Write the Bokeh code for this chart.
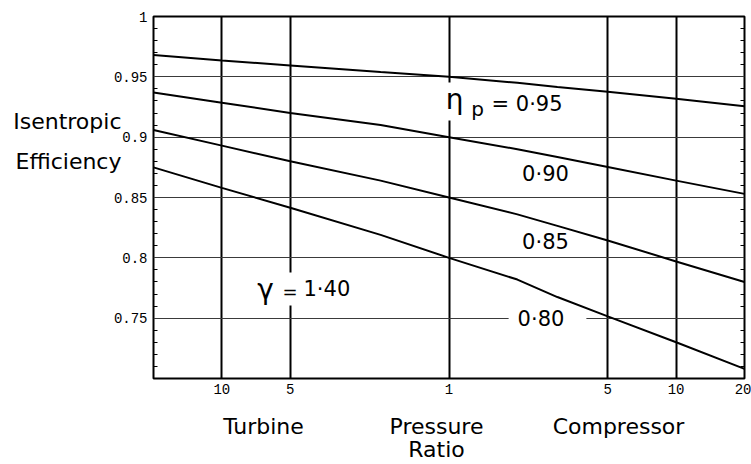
import math
from bokeh.plotting import figure
from bokeh.models import FixedTicker, LinearAxis, LogAxis, Label
from bokeh.embed import file_html
from bokeh.resources import INLINE

# ---- data ----
# pressure ratio on a log axis; values < 1 are the turbine side (1/r)
pressure_ratio = [0.05, 0.1, 0.2, 0.5, 1, 2, 3, 5, 10, 20]
eff_np_095 = [0.968, 0.9636, 0.9594, 0.954, 0.950, 0.945, 0.9415, 0.9376, 0.9318, 0.9256]
eff_np_090 = [0.937, 0.9286, 0.920, 0.910, 0.900, 0.890, 0.8835, 0.8752, 0.864, 0.853]
eff_np_085 = [0.906, 0.893, 0.880, 0.864, 0.850, 0.836, 0.8265, 0.8144, 0.797, 0.780]
eff_np_080 = [0.875, 0.858, 0.8415, 0.819, 0.800, 0.782, 0.7675, 0.7515, 0.730, 0.708]

x_ticks = [0.1, 0.2, 1, 5, 10, 20]
x_tick_labels = ["10", "5", "1", "5", "10", "20"]
x_grid_ticks = [0.1, 0.2, 1, 5, 10]
y_ticks = [0.75, 0.8, 0.85, 0.9, 0.95, 1.0]
y_tick_labels = ["0.75", "0.8", "0.85", "0.9", "0.95", "1"]
y_grid_ticks = [0.75, 0.8, 0.85, 0.9, 0.95]
y_minor_ticks = [0.71, 0.72, 0.73, 0.74, 0.76, 0.77, 0.78, 0.79, 0.81, 0.82, 0.83, 0.84,
                 0.86, 0.87, 0.88, 0.89, 0.91, 0.92, 0.93, 0.94, 0.96, 0.97, 0.98, 0.99]

X_MIN, X_MAX = 0.05, 20
Y_MIN, Y_MAX = 0.70, 1.00

# frame placement (canvas pixels)
W, H = 751, 464
F_LEFT, F_RIGHT, F_TOP, F_BOTTOM = 153, 744, 16, 382


def xd(px):
    lo, hi = math.log10(X_MIN), math.log10(X_MAX)
    return 10 ** (lo + (px - F_LEFT) / (F_RIGHT - F_LEFT) * (hi - lo))


def yd(py):
    return Y_MIN + (F_BOTTOM - py) / (F_BOTTOM - F_TOP) * (Y_MAX - Y_MIN)


p = figure(width=W, height=H, x_axis_type="log", x_range=(X_MIN, X_MAX),
           y_range=(Y_MIN, Y_MAX), output_backend="svg", toolbar_location=None,
           min_border_left=F_LEFT, min_border_right=W - F_RIGHT,
           min_border_top=F_TOP, min_border_bottom=H - F_BOTTOM)
p.background_fill_color = "white"
p.border_fill_color = "white"
p.outline_line_color = "black"
p.outline_line_width = 2

TICK_FONT = "Liberation Mono"
LABEL_FONT = "DejaVu Sans"


def plain(ax):
    ax.axis_line_color = None
    ax.major_tick_in = 0
    ax.major_tick_out = 0
    ax.minor_tick_in = 0
    ax.minor_tick_out = 0
    ax.major_label_text_color = "black"


# x axis (numbers)
xa = p.xaxis[0]
plain(xa)
xa.ticker = FixedTicker(ticks=x_ticks, minor_ticks=[])
xa.major_label_overrides = dict(zip(x_ticks, x_tick_labels))
xa.major_label_standoff = 5
xa.major_label_text_font = TICK_FONT
xa.major_label_text_font_size = "14px"

# x axis (words)
word_ticks = [xd(263), xd(436), xd(618)]
word_labels = ["Turbine", "Pressure\nRatio", "Compressor"]
xw = LogAxis(ticker=FixedTicker(ticks=word_ticks, minor_ticks=[]))
plain(xw)
xw.major_label_overrides = dict(zip(word_ticks, word_labels))
xw.major_label_standoff = 17
xw.major_label_text_font = LABEL_FONT
xw.major_label_text_font_size = "22px"
xw.major_label_text_line_height = 0.92
p.add_layout(xw, "below")

# y axis (numbers)
ya = p.yaxis[0]
plain(ya)
ya.ticker = FixedTicker(ticks=y_ticks, minor_ticks=y_minor_ticks)
ya.major_label_overrides = dict(zip(y_ticks, y_tick_labels))
ya.minor_tick_in = 4
ya.minor_tick_line_color = "black"
ya.minor_tick_line_width = 1
ya.major_label_standoff = 6
ya.major_label_text_font = TICK_FONT
ya.major_label_text_font_size = "14px"

# y axis (words)
yw_ticks = [yd(122), yd(163)]
yw_labels = ["Isentropic", "Efficiency"]
yw = LinearAxis(ticker=FixedTicker(ticks=yw_ticks, minor_ticks=[]))
plain(yw)
yw.major_label_overrides = dict(zip(yw_ticks, yw_labels))
yw.major_label_standoff = -11
yw.major_label_text_font = LABEL_FONT
yw.major_label_text_font_size = "22px"
p.add_layout(yw, "left")

# right axis (minor ticks only)
ra = LinearAxis(ticker=FixedTicker(ticks=[], minor_ticks=y_minor_ticks))
plain(ra)
ra.minor_tick_in = 4
ra.minor_tick_line_color = "black"
ra.major_label_standoff = 0
p.add_layout(ra, "right")

# grids
p.xgrid.ticker = FixedTicker(ticks=x_grid_ticks)
p.xgrid.grid_line_color = "black"
p.xgrid.grid_line_width = 2
p.ygrid.ticker = FixedTicker(ticks=y_grid_ticks)
p.ygrid.grid_line_color = "#3a3a3a"
p.ygrid.grid_line_width = 1


# in-plot annotations (positions given as the vertical middle of the glyphs);
# labels with a white box sit under the curves but over the grid
def lab(text, px, py, size, align="left", bg=None, pad=0):
    kw = {}
    if bg is not None:
        kw["background_fill_color"] = bg
        kw["padding"] = pad
        kw["level"] = "underlay"
    L = Label(x=xd(px), y=yd(py), text=text, text_font=LABEL_FONT,
              text_font_size=f"{size}px", text_color="black",
              text_align=align, text_baseline="middle", **kw)
    p.add_layout(L)
    return L


lab("η", 454, 102, 28, align="center", bg="white", pad=dict(left=1, right=1, top=0, bottom=5))
lab("p", 477, 110, 20, align="center")
lab("=  0·95", 491, 104.5, 21)
lab("0·90", 545, 175, 21, align="center")
lab("0·85", 545, 243.5, 21, align="center")
lab("0·80", 547, 321.5, 21, align="center", bg="white",
    pad=dict(left=9, right=22, top=0, bottom=0))
lab("γ", 265, 292, 28, align="center")
lab("=", 282, 291.5, 18, bg="white", pad=dict(left=0, right=10, top=9, bottom=3))
lab("1·40", 303, 291.5, 21)

# curves
for series in (eff_np_095, eff_np_090, eff_np_085, eff_np_080):
    p.line(pressure_ratio, series, line_color="black", line_width=2)

open("out.html", "w").write(file_html(p, INLINE))
